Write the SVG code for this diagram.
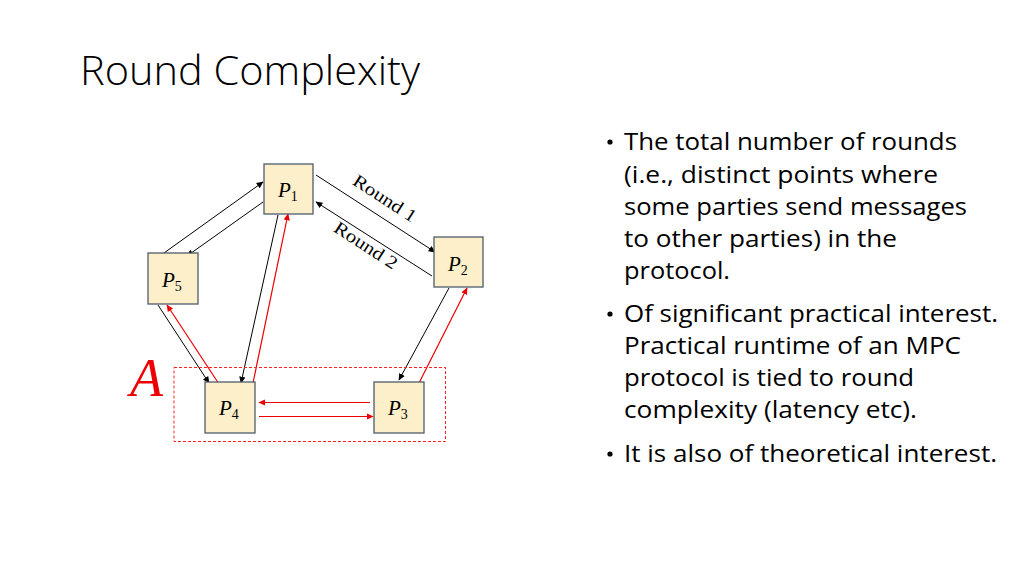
<svg xmlns="http://www.w3.org/2000/svg" width="1024" height="576" viewBox="0 0 1024 576">
<defs>
<marker id="ab" viewBox="0 0 10 10" refX="9" refY="5" markerWidth="7" markerHeight="7" orient="auto" markerUnits="userSpaceOnUse"><path d="M0,0.5 L10,5 L0,9.5 Z" fill="#000"/></marker>
<marker id="ar" viewBox="0 0 10 10" refX="9" refY="5" markerWidth="7" markerHeight="7" orient="auto" markerUnits="userSpaceOnUse"><path d="M0,0.5 L10,5 L0,9.5 Z" fill="#e00"/></marker>
</defs>
<style>
.box{fill:#fcefc9;stroke:#4f5b6b;stroke-width:1.3}
.pl{font-family:"Liberation Serif",serif;font-style:italic;font-size:21px;fill:#000}
.sub{font-family:"Liberation Serif",serif;font-style:normal;font-size:14px}
.blk{stroke:#000;stroke-width:1;fill:none;marker-end:url(#ab)}
.red{stroke:#e00;stroke-width:1.2;fill:none;marker-end:url(#ar)}
.rl{font-family:"Liberation Serif",serif;font-size:18px;fill:#000}
.bt{font-family:"Open Sans","Liberation Sans",sans-serif;font-size:23px;fill:#000}
</style>
<rect width="1024" height="576" fill="#fff"/>
<text x="80" y="85" font-family="Open Sans, Liberation Sans, sans-serif" font-weight="300" font-size="40" textLength="340" lengthAdjust="spacingAndGlyphs" fill="#000">Round Complexity</text>

<g id="connectors">
<line class="blk" x1="157" y1="258" x2="263" y2="182"/>
<line class="blk" x1="263" y1="202" x2="187" y2="256"/>
<line class="blk" x1="316" y1="175" x2="435" y2="252"/>
<line class="blk" x1="432" y1="276" x2="316" y2="202"/>
<line class="blk" x1="278" y1="215" x2="241" y2="383"/>
<line class="red" x1="253" y1="383" x2="288" y2="214"/>
<line class="blk" x1="158" y1="305" x2="209" y2="383"/>
<line class="red" x1="219" y1="384" x2="167" y2="305"/>
<line class="blk" x1="449" y1="288" x2="399" y2="380"/>
<line class="red" x1="419" y1="383" x2="467" y2="288"/>
<line class="red" x1="370" y1="402.5" x2="259" y2="402.5"/>
<line class="red" x1="259" y1="416.5" x2="373" y2="416.5"/>
<text class="rl" transform="translate(384,200) rotate(33)" text-anchor="middle" dominant-baseline="middle" textLength="72" lengthAdjust="spacingAndGlyphs">Round 1</text>
<text class="rl" transform="translate(365,247) rotate(33)" text-anchor="middle" dominant-baseline="middle" textLength="72" lengthAdjust="spacingAndGlyphs">Round 2</text>
</g>

<g id="groupA">
<rect x="174" y="367.5" width="271.5" height="74" fill="none" stroke="#f22" stroke-width="1" stroke-dasharray="3,2"/>
<text x="130" y="396" font-family="Liberation Serif, serif" font-style="italic" font-size="54" fill="#e00">A</text>
</g>

<g id="P1"><rect class="box" x="264" y="164" width="49" height="50"/><text class="pl" x="278" y="197">P<tspan class="sub" dy="4">1</tspan></text></g>
<g id="P2"><rect class="box" x="434" y="237" width="49" height="50"/><text class="pl" x="448" y="271">P<tspan class="sub" dy="4">2</tspan></text></g>
<g id="P5"><rect class="box" x="148" y="253" width="50" height="51"/><text class="pl" x="162" y="287">P<tspan class="sub" dy="4">5</tspan></text></g>
<g id="P4"><rect class="box" x="205" y="382" width="50" height="51"/><text class="pl" x="219" y="415">P<tspan class="sub" dy="4">4</tspan></text></g>
<g id="P3"><rect class="box" x="374" y="382" width="50" height="51"/><text class="pl" x="388" y="415">P<tspan class="sub" dy="4">3</tspan></text></g>

<g id="bullets">
<circle cx="610" cy="142" r="2.6" fill="#000"/>
<circle cx="610" cy="314" r="2.6" fill="#000"/>
<circle cx="610" cy="454" r="2.6" fill="#000"/>
<text class="bt" x="624" y="150" textLength="333" lengthAdjust="spacingAndGlyphs">The total number of rounds</text>
<text class="bt" x="624" y="183" textLength="314" lengthAdjust="spacingAndGlyphs">(i.e., distinct points where</text>
<text class="bt" x="624" y="215" textLength="343" lengthAdjust="spacingAndGlyphs">some parties send messages</text>
<text class="bt" x="624" y="247" textLength="273" lengthAdjust="spacingAndGlyphs">to other parties) in the</text>
<text class="bt" x="624" y="279" textLength="106" lengthAdjust="spacingAndGlyphs">protocol.</text>
<text class="bt" x="624" y="322" textLength="374" lengthAdjust="spacingAndGlyphs">Of significant practical interest.</text>
<text class="bt" x="624" y="354" textLength="337" lengthAdjust="spacingAndGlyphs">Practical runtime of an MPC</text>
<text class="bt" x="624" y="386" textLength="290" lengthAdjust="spacingAndGlyphs">protocol is tied to round</text>
<text class="bt" x="624" y="418" textLength="293" lengthAdjust="spacingAndGlyphs">complexity (latency etc).</text>
<text class="bt" x="624" y="462" textLength="373" lengthAdjust="spacingAndGlyphs">It is also of theoretical interest.</text>
</g>
</svg>
